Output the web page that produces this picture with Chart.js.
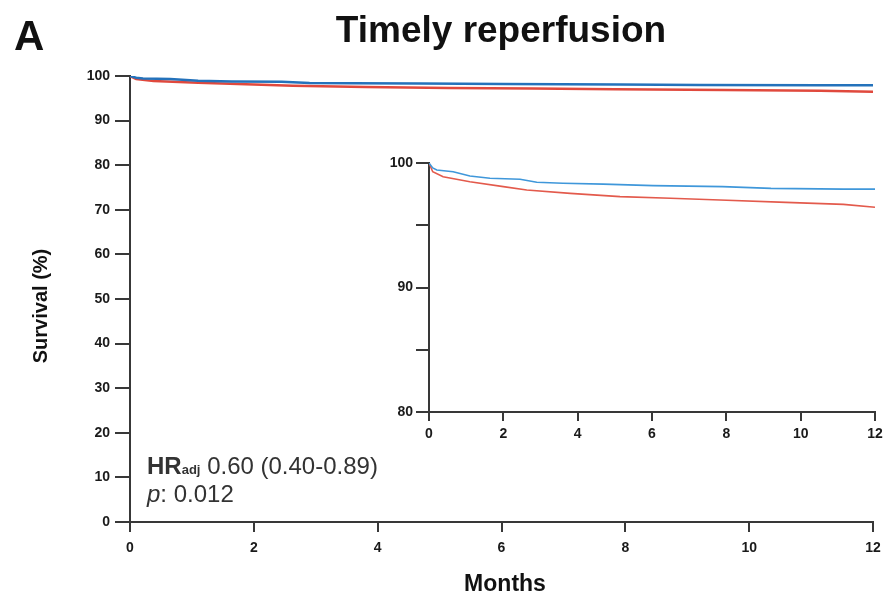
<!DOCTYPE html>
<html>
<head>
<meta charset="utf-8">
<script src="https://cdn.jsdelivr.net/npm/chart.js@4/dist/chart.umd.min.js"></script>
<style>
  html, body { margin: 0; padding: 0; background: #fff; }
  #wrap { position: relative; width: 884px; height: 596px; font-family: 'Liberation Sans', Arial, sans-serif; color: #111; }
  #mainCanvas { position: absolute; left: 0; top: 0; }
  #insetBox { position: absolute; left: 370px; top: 140px; width: 514px; height: 310px; }
  .txt { position: absolute; white-space: nowrap; }
</style>
</head>
<body>
<div id="wrap">
  <canvas id="mainCanvas" width="884" height="596"></canvas>
  <div id="insetBox"><canvas id="insetCanvas" width="514" height="310"></canvas></div>
  <div class="txt" style="left:14px; top:12px; font-size:42px; font-weight:bold;">A</div>
  <div class="txt" style="left:501px; top:30px; font-size:37px; font-weight:bold; transform:translate(-50%,-50%);">Timely reperfusion</div>
  <div class="txt" style="left:40px; top:306px; font-size:20px; font-weight:bold; transform:translate(-50%,-50%) rotate(-90deg);">Survival (%)</div>
  <div class="txt" style="left:505px; top:583px; font-size:23px; font-weight:bold; transform:translate(-50%,-50%);">Months</div>
  <div class="txt" style="left:147px; top:452px; font-size:24px; color:#333;"><b>HR</b><span style="font-size:13px; font-weight:bold;">adj</span> 0.60 (0.40-0.89)</div>
  <div class="txt" style="left:147px; top:480px; font-size:24px; color:#333;"><i>p</i>: 0.012</div>
</div>
<script>
// Kaplan-Meier curves
const blueMonths   = [0, 0.1, 0.21, 0.65, 1.1, 1.64, 2.45, 2.9, 3.6, 4.69, 6.03, 7.9, 9.2, 11.15, 12];
const blueSurvival = [100, 99.6, 99.44, 99.3, 98.95, 98.77, 98.7, 98.45, 98.37, 98.3, 98.18, 98.1, 97.96, 97.9, 97.9];
const redMonths    = [0, 0.1, 0.38, 1.1, 2.0, 2.63, 3.8, 5.14, 6.5, 7.83, 9.6, 11.15, 12];
const redSurvival  = [100, 99.3, 98.9, 98.5, 98.1, 97.83, 97.56, 97.3, 97.17, 97.03, 96.84, 96.68, 96.45];

const monthTicks = [0, 2, 4, 6, 8, 10, 12];

const axisColor = '#383838';
const tickFont = { family: "'Liberation Sans', Arial, sans-serif", size: 14, weight: 'bold' };

function toPoints(xs, ys) {
    return xs.map((x, i) => ({ x: x, y: ys[i] }));
}

function makeDatasets(blueColor, redColor, width) {
    return [
        {
            label: 'Timely',
            data: toPoints(blueMonths, blueSurvival),
            borderColor: blueColor,
            borderWidth: width,
            pointRadius: 0,
            tension: 0
        },
        {
            label: 'Not timely',
            data: toPoints(redMonths, redSurvival),
            borderColor: redColor,
            borderWidth: width,
            pointRadius: 0,
            tension: 0
        }
    ];
}

function xAxis(h, tickLen, pad) {
    return {
        type: 'linear',
        min: 0, max: 12,
        afterBuildTicks: s => { s.ticks = monthTicks.map(v => ({ value: v })); },
        // fixed height, and no extra room for the end labels (layout padding handles it)
        afterFit: s => { s.height = h; s.paddingLeft = 0; s.paddingRight = 0; },
        border: { color: axisColor, width: 2 },
        grid: { drawOnChartArea: false, drawTicks: true, tickLength: tickLen, color: axisColor, lineWidth: 2 },
        ticks: { color: '#1a1a1a', font: tickFont, padding: pad, maxRotation: 0 }
    };
}

// Main chart
new Chart(document.getElementById('mainCanvas'), {
    type: 'line',
    data: { datasets: makeDatasets('#2472bb', '#e0493d', 2.5) },
    options: {
        responsive: false,
        animation: false,
        layout: { padding: { left: 0, right: 11, top: 76, bottom: 0 } },
        plugins: { legend: { display: false }, tooltip: { enabled: false } },
        scales: {
            x: xAxis(74, 10, 8),
            y: {
                min: 0, max: 100,
                afterFit: s => { s.width = 130; },
                border: { color: axisColor, width: 2 },
                grid: { drawOnChartArea: false, drawTicks: true, tickLength: 15, color: axisColor, lineWidth: 2 },
                ticks: { stepSize: 10, color: '#1a1a1a', font: tickFont, padding: 5 }
            }
        }
    }
});

// Inset (zoom on 80-100 %)
new Chart(document.getElementById('insetCanvas'), {
    type: 'line',
    data: { datasets: makeDatasets('#3f97da', '#e35a4c', 1.6) },
    options: {
        responsive: false,
        animation: false,
        layout: { padding: { left: 0, right: 9, top: 23, bottom: 0 } },
        plugins: { legend: { display: false }, tooltip: { enabled: false } },
        scales: {
            x: xAxis(38, 9, 5),
            y: {
                min: 80, max: 100,
                afterFit: s => { s.width = 59; },
                border: { color: axisColor, width: 2 },
                grid: { drawOnChartArea: false, drawTicks: true, tickLength: 13, color: axisColor, lineWidth: 2 },
                ticks: {
                    stepSize: 5, color: '#1a1a1a', font: tickFont, padding: 3,
                    callback: v => (v % 10 === 0 ? v : '')
                }
            }
        }
    }
});
</script>
</body>
</html>
